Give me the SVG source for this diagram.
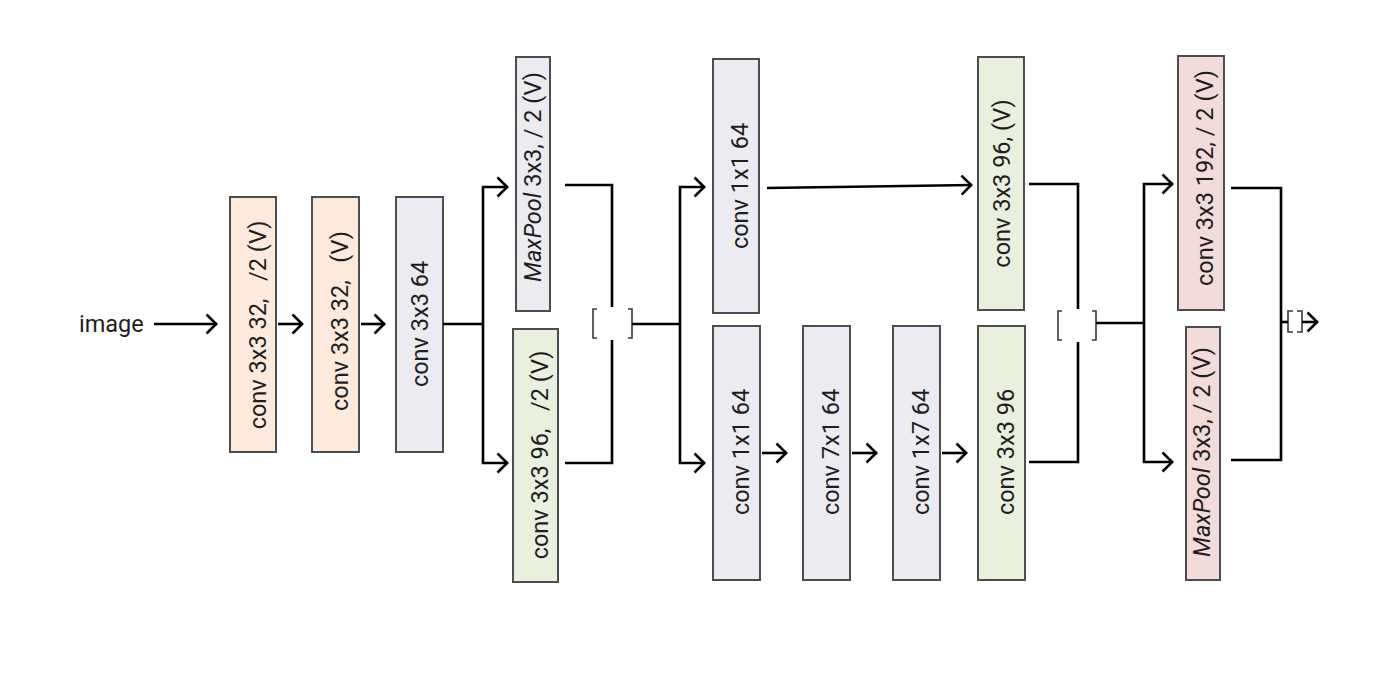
<svg xmlns="http://www.w3.org/2000/svg" width="1399" height="684" viewBox="0 0 1399 684">
<defs>
<marker id="arr" viewBox="0 0 13 22" markerWidth="13" markerHeight="22" refX="12" refY="11" orient="auto" markerUnits="userSpaceOnUse">
<path d="M1.5,1.5 L11.2,11 L1.5,20.5" fill="none" stroke="#000" stroke-width="2.6"/>
</marker>
<style>
.box{stroke:#4d4d4d;stroke-width:2}
.peach{fill:#fdeadc}
.lav{fill:#ecebf2}
.green{fill:#e9f0dd}
.pink{fill:#f2dcd9}
.lbl{font-family:Roboto,"Liberation Sans",sans-serif;font-size:23.5px;fill:#1e1e1e;text-anchor:middle;white-space:pre}
.it{font-style:italic}
.ln{fill:none;stroke:#000;stroke-width:2.6}
.ar{fill:none;stroke:#000;stroke-width:2.6;marker-end:url(#arr)}
.br{fill:none;stroke:#3a3a3a;stroke-width:1.6}
</style>
</defs>
<rect width="1399" height="684" fill="#fff"/>
<text id="image" x="79" y="332" style="font-family:Roboto,'Liberation Sans',sans-serif;font-size:23.5px;fill:#1e1e1e">image</text>
<g id="n1"><rect class="box peach" x="230" y="197" width="46" height="255"/><text class="lbl" transform="translate(266,325) rotate(-90)">conv 3x3 32,   /2 (V)</text></g>
<g id="n2"><rect class="box peach" x="312" y="197" width="47" height="255"/><text class="lbl" transform="translate(348,321) rotate(-90)">conv 3x3 32,   (V)</text></g>
<g id="n3"><rect class="box lav" x="396" y="197" width="47" height="255"/><text class="lbl" transform="translate(428,324) rotate(-90)">conv 3x3 64</text></g>
<g id="n4"><rect class="box lav" x="516" y="57" width="34" height="254"/><text class="lbl" transform="translate(541,177) rotate(-90)"><tspan class="it">MaxPool</tspan> 3x3, / 2 (V)</text></g>
<g id="n5"><rect class="box green" x="513" y="329" width="45" height="253"/><text class="lbl" transform="translate(548,455) rotate(-90)">conv 3x3 96,   /2 (V)</text></g>
<g id="n6"><rect class="box lav" x="713" y="59" width="46" height="254"/><text class="lbl" transform="translate(748,186) rotate(-90)">conv 1x1 64</text></g>
<g id="n7"><rect class="box green" x="978" y="57" width="46" height="253"/><text class="lbl" transform="translate(1010,183.5) rotate(-90)">conv 3x3 96, (V)</text></g>
<g id="n8"><rect class="box lav" x="713" y="326" width="47" height="254"/><text class="lbl" transform="translate(749,452) rotate(-90)">conv 1x1 64</text></g>
<g id="n9"><rect class="box lav" x="803" y="326" width="47" height="254"/><text class="lbl" transform="translate(839,452) rotate(-90)">conv 7x1 64</text></g>
<g id="n10"><rect class="box lav" x="893" y="326" width="47" height="254"/><text class="lbl" transform="translate(929,452) rotate(-90)">conv 1x7 64</text></g>
<g id="n11"><rect class="box green" x="978" y="326" width="47" height="254"/><text class="lbl" transform="translate(1014,452) rotate(-90)">conv 3x3 96</text></g>
<g id="n12"><rect class="box pink" x="1178" y="56" width="46" height="254"/><text class="lbl" transform="translate(1213,178) rotate(-90)">conv 3x3 192, / 2 (V)</text></g>
<g id="n13"><rect class="box pink" x="1186" y="327" width="34" height="253"/><text class="lbl" transform="translate(1210,452) rotate(-90)"><tspan class="it">MaxPool</tspan> 3x3, / 2 (V)</text></g>
<g id="concat1"><path class="br" d="M597,309 H593 V338 H597 M628,309 H632 V338 H628"/></g>
<g id="concat2"><path class="br" d="M1062,311 H1058 V340 H1062 M1092,311 H1096 V340 H1092"/></g>
<g id="concat3"><path class="br" d="M1293,311 H1288 V332 H1293 M1297,311 H1302 V332 H1297"/></g>
<g id="connectors">
<path class="ar" d="M154,324 H217"/>
<path class="ar" d="M278,324 H303"/>
<path class="ar" d="M361,324 H385"/>
<path class="ln" d="M443,324 H483"/>
<path class="ar" d="M483,324 V187 H508"/>
<path class="ar" d="M483,324 V463 H508"/>
<path class="ln" d="M565,185 H612 V307"/>
<path class="ln" d="M565,463 H612 V340"/>
<path class="ln" d="M632,324 H680"/>
<path class="ar" d="M680,324 V187 H705"/>
<path class="ar" d="M680,324 V463 H705"/>
<path class="ar" d="M767,188 L972,185"/>
<path class="ar" d="M762,453 H787"/>
<path class="ar" d="M852,453 H877"/>
<path class="ar" d="M942,453 H967"/>
<path class="ln" d="M1029,184 H1078 V309"/>
<path class="ln" d="M1029,462 H1078 V342"/>
<path class="ln" d="M1096,323 H1144"/>
<path class="ar" d="M1144,323 V184 H1173"/>
<path class="ar" d="M1144,323 V462 H1173"/>
<path class="ln" d="M1231,188 H1281 V460 H1231"/>
<path class="ln" d="M1281,322 H1288"/>
<path class="ar" d="M1302,322 H1318"/>
</g>
</svg>
